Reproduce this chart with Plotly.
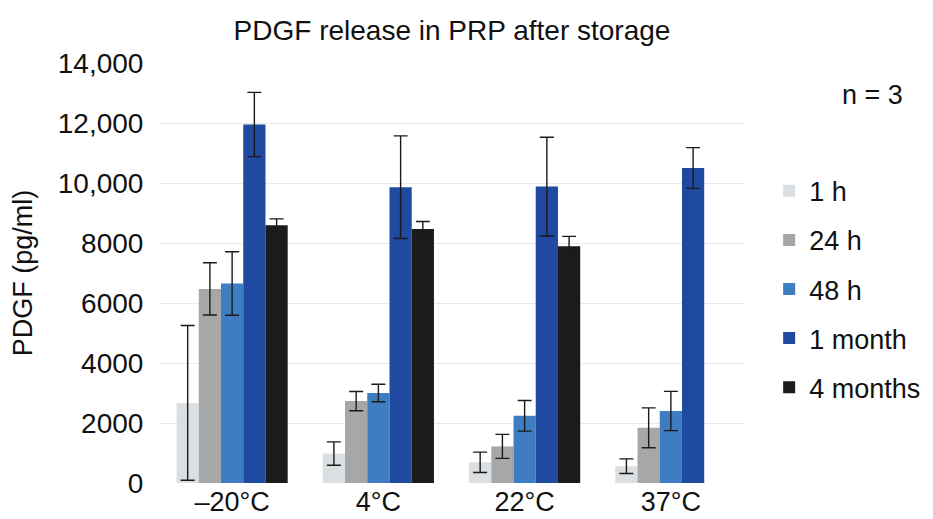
import plotly.graph_objects as go

categories = ["\u201320\u00b0C", "4\u00b0C", "22\u00b0C", "37\u00b0C"]
series_names = ["1 h", "24 h", "48 h", "1 month", "4 months"]

vals_1h = [2670, 980, 690, 560]
vals_24h = [6470, 2730, 1220, 1840]
vals_48h = [6650, 3000, 2240, 2400]
vals_1m = [11950, 9860, 9880, 10500]
vals_4m = [8590, 8470, 7890, None]

err_1h = [2580, 390, 340, 245]
err_24h = [870, 320, 400, 665]
err_48h = [1060, 290, 510, 655]
err_1m = [1070, 1710, 1645, 680]
err_4m = [215, 245, 330, None]

colors = ["#dcdfe1", "#a6a7a9", "#3f7dc3", "#2049a0", "#1b1b1b"]

y_tickvals = [0, 2000, 4000, 6000, 8000, 10000, 12000, 14000]
y_ticktext = ["0", "2000", "4000", "6000", "8000", "10,000", "12,000", "14,000"]

FONT = "Liberation Sans, Arial, Helvetica, sans-serif"

fig = go.Figure()
all_vals = [vals_1h, vals_24h, vals_48h, vals_1m, vals_4m]
all_errs = [err_1h, err_24h, err_48h, err_1m, err_4m]
for name, v, e, c in zip(series_names, all_vals, all_errs, colors):
    fig.add_trace(go.Bar(
        x=categories, y=v, name=name, legendgroup=name,
        marker=dict(color=c, line=dict(width=0)),
        error_y=dict(type="data", array=e, visible=True, color="#1a1a1a",
                     thickness=1.4, width=7),
    ))

# page has an 8px body margin, so the figure is 8px smaller than the window
fig.update_layout(
    width=925, height=511,
    template="none",
    paper_bgcolor="white", plot_bgcolor="white",
    margin=dict(l=151, r=189, t=55, b=35.5, autoexpand=False),
    barmode="group", bargap=0.24, bargroupgap=0,
    font=dict(family=FONT, color="#111111", size=27),
    title=dict(text="PDGF release in PRP after storage", x=0.48, xanchor="center",
               y=0.957, yanchor="middle", font=dict(size=28, family=FONT, color="#111111")),
    xaxis=dict(showgrid=False, showline=False, zeroline=False, ticks="",
               tickfont=dict(size=27), automargin=False),
    yaxis=dict(range=[0, 14000], tickvals=y_tickvals, ticktext=y_ticktext,
               showgrid=True, gridcolor="#e6eaeb", gridwidth=1, zeroline=False,
               showline=False, ticks="outside", ticklen=9, tickcolor="rgba(0,0,0,0)",
               tickfont=dict(size=28), automargin=False,
               title=dict(text="PDGF (pg/ml)", font=dict(size=27), standoff=20)),
    legend=dict(x=1.043, xanchor="left", y=0.753, yanchor="top",
                font=dict(size=27), tracegroupgap=11, bgcolor="rgba(0,0,0,0)"),
    showlegend=True,
)
fig.add_annotation(text="n = 3", xref="paper", yref="paper", x=1.2205, y=0.924,
                   xanchor="center", yanchor="middle", showarrow=False,
                   font=dict(size=27, family=FONT, color="#111111"))

fig.write_html("out.html")
